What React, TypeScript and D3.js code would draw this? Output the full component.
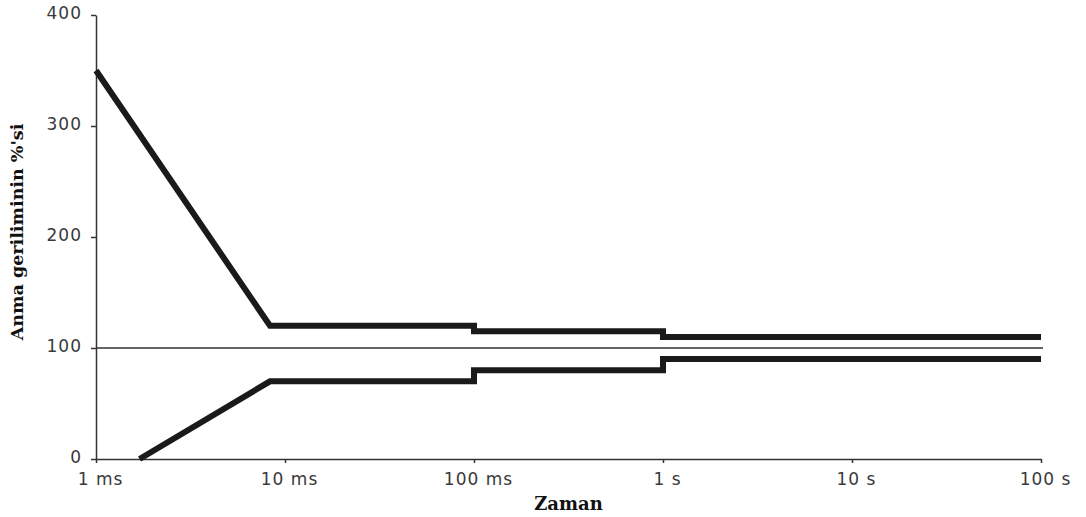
import React, { useEffect, useRef } from 'react';
import * as d3 from 'd3';

// time in seconds, value in % of nominal voltage
const upperTimes = [0.001, 0.00833, 0.1, 0.1, 1, 1, 100];
const upperValues = [350, 120, 120, 115, 115, 110, 110];
const lowerTimes = [0.0017, 0.00833, 0.1, 0.1, 1, 1, 100];
const lowerValues = [0, 70, 70, 80, 80, 90, 90];

const xTicks = [0.001, 0.01, 0.1, 1, 10, 100];
const xTickLabels = ['1 ms', '10 ms', '100 ms', '1 s', '10 s', '100 s'];
const yTicks = [0, 100, 200, 300, 400];
const nominal = 100;

const width = 1086;
const height = 517;
const margin = { top: 15, right: 45, bottom: 58, left: 96 };

const App = () => {
  const svgRef = useRef<SVGSVGElement>(null);

  useEffect(() => {
    const svg = d3.select(svgRef.current);
    svg.selectAll('*').remove();

    const innerW = width - margin.left - margin.right;
    const innerH = height - margin.top - margin.bottom;

    const x = d3.scaleLog().domain([0.001, 100]).range([0, innerW]);
    const y = d3.scaleLinear().domain([0, 400]).range([innerH, 0]);

    const g = svg.append('g')
      .attr('transform', `translate(${margin.left}, ${margin.top})`);

    // nominal 100% reference line
    g.append('line')
      .attr('x1', 0)
      .attr('x2', innerW + 2)
      .attr('y1', y(nominal))
      .attr('y2', y(nominal))
      .attr('stroke', '#333')
      .attr('stroke-width', 1.3);

    // axes
    const yAxis = g.append('g')
      .call(d3.axisLeft(y).tickValues(yTicks).tickSize(5).tickSizeOuter(0).tickPadding(9));
    const xAxis = g.append('g')
      .attr('transform', `translate(0, ${innerH})`)
      .call(d3.axisBottom(x).tickValues(xTicks).tickSize(4).tickSizeOuter(0).tickPadding(10)
        .tickFormat((d, i) => xTickLabels[i]));

    [yAxis, xAxis].forEach(ax => {
      ax.select('.domain').attr('stroke', '#333').attr('stroke-width', 1.5);
      ax.selectAll('.tick line').attr('stroke', '#333').attr('stroke-width', 1.5);
      ax.selectAll('.tick text')
        .attr('fill', '#3a3a3a')
        .style('font-family', '"DejaVu Sans", sans-serif')
        .style('font-size', '17px')
        .style('letter-spacing', '1px');
    });
    yAxis.selectAll('.tick text').attr('dy', '0.2em');
    xAxis.selectAll('.tick text').attr('dx', '4px');

    // envelope curves
    const line = d3.line<[number, number]>()
      .x(d => x(d[0]))
      .y(d => y(d[1]));

    const curves = [
      d3.zip(upperTimes, upperValues) as [number, number][],
      d3.zip(lowerTimes, lowerValues) as [number, number][],
    ];
    curves.forEach(pts => {
      g.append('path')
        .datum(pts)
        .attr('fill', 'none')
        .attr('stroke', '#1a1a1a')
        .attr('stroke-width', 6)
        .attr('stroke-linejoin', 'miter')
        .attr('stroke-linecap', 'butt')
        .attr('d', line);
    });

    // axis titles
    g.append('text')
      .attr('x', innerW / 2)
      .attr('y', innerH + 51)
      .attr('text-anchor', 'middle')
      .style('font-family', '"DejaVu Serif", serif')
      .style('font-weight', 'bold')
      .style('font-size', '18px')
      .attr('fill', '#111')
      .text('Zaman');

    g.append('text')
      .attr('transform', `translate(${-73}, ${217}) rotate(-90)`)
      .attr('text-anchor', 'middle')
      .style('font-family', '"DejaVu Serif", serif')
      .style('font-weight', 'bold')
      .style('font-size', '17.5px')
      .attr('fill', '#111')
      .text("Anma geriliminin %'si");
  }, []);

  return (
    <svg
      ref={svgRef}
      width={width}
      height={height}
      style={{ position: 'absolute', left: 0, top: 0, background: '#fff' }}
    />
  );
};

export default App;
